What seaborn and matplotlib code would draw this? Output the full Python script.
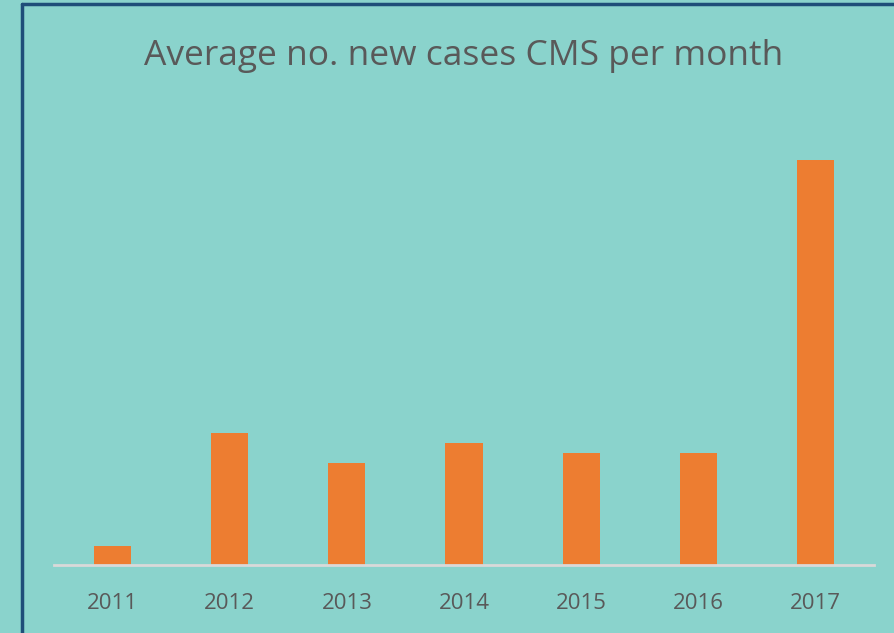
import matplotlib.pyplot as plt
import seaborn as sns
import pandas as pd
from matplotlib.lines import Line2D

years = ["2011", "2012", "2013", "2014", "2015", "2016", "2017"]
avg_cases = [0.9, 6.29, 4.86, 5.81, 5.33, 5.33, 19.29]

bg = "#8AD3CC"
bar_color = "#ED7D31"
text_color = "#595959"

sns.set_theme(style="white")
plt.rcParams["font.family"] = ["Open Sans", "DejaVu Sans"]

df = pd.DataFrame({"year": years, "cases": avg_cases})

fig = plt.figure(figsize=(8.94, 6.33), dpi=100, facecolor=bg)
ax = fig.add_axes([54 / 894, 1 - 565 / 633, 820 / 894, 465 / 633])
ax.set_facecolor(bg)

sns.barplot(data=df, x="year", y="cases", color=bar_color, saturation=1,
            width=0.316, linewidth=0, ax=ax)

ax.set_xlim(-0.5, 6.5)
ax.set_ylim(0, 22.14)
ax.set_xlabel("")
ax.set_ylabel("")
ax.set_yticks([])
for s in ["top", "right", "left"]:
    ax.spines[s].set_visible(False)
ax.spines["bottom"].set_color("#D9D9D9")
ax.spines["bottom"].set_linewidth(2)
ax.tick_params(axis="x", length=0, pad=20, labelsize=16, labelcolor=text_color)

fig.text(464 / 894, 1 - 56 / 633, "Average no. new cases CMS per month",
         ha="center", va="center", fontsize=25.5, color=text_color)

# frame lines of the slide
fig.add_artist(Line2D([22 / 894, 22 / 894], [0, 1 - 4 / 633],
                      transform=fig.transFigure, color="#1F4E79", lw=2.5))
fig.add_artist(Line2D([22 / 894, 1], [1 - 4 / 633, 1 - 4 / 633],
                      transform=fig.transFigure, color="#1F4E79", lw=2.5))

fig.savefig("out.png", dpi=100, facecolor=bg)
